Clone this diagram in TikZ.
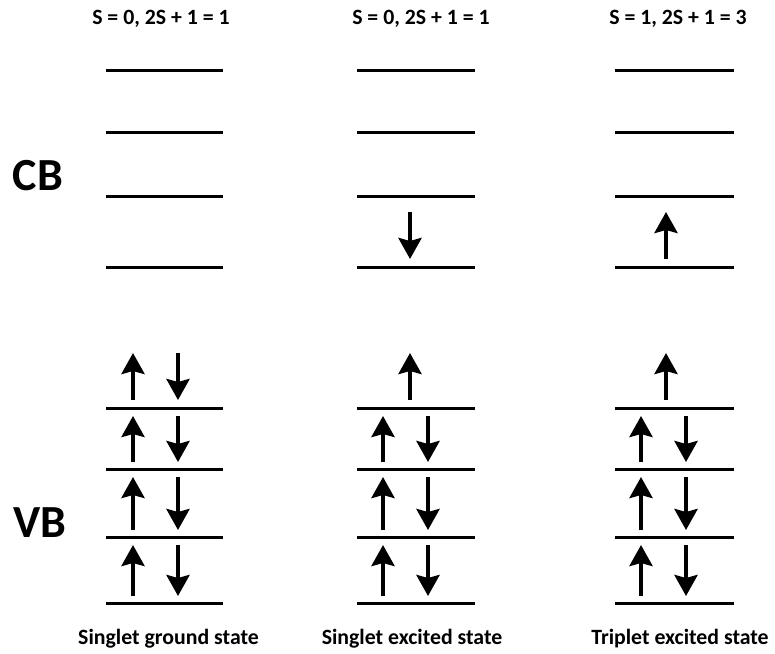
\documentclass[tikz,border=0pt]{standalone}
\usepackage{fontspec}
\setmainfont{Carlito}
\usetikzlibrary{arrows.meta}
\begin{document}
\begin{tikzpicture}[x=1pt,y=-1pt,
  level/.style={line width=3pt},
  spin/.style={line width=4pt,-{Stealth[inset=3pt,width=23pt,length=21pt]}},
  lbl/.style={font=\bfseries\fontsize{21.8}{24}\selectfont,inner sep=0pt},
  band/.style={font=\bfseries\fontsize{46}{50}\selectfont,inner sep=0pt}]
\useasboundingbox (0,0) rectangle (775,653);
% headers
\node[lbl] (h1) at (161,19) {S = 0, 2S + 1 = 1};
\node[lbl] (h2) at (421,19) {S = 0, 2S + 1 = 1};
\node[lbl] (h3) at (678,19) {S = 1, 2S + 1 = 3};
% footers
\node[lbl] (f1) at (168.5,639) {Singlet ground state};
\node[lbl] (f2) at (412,639) {Singlet excited state};
\node[lbl] (f3) at (680,639) {Triplet excited state};
% band labels
\node[band] (cb) at (38,176) {CB};
\node[band] (vb) at (40,523) {VB};
% levels
\foreach \xa/\xb in {106/223,357/475,615/734}{
  \foreach \y in {70,132,196,267,408,469,537,603}{
    \draw[level] (\xa,\y) -- (\xb,\y);
  }
}
% column 1 pairs
\foreach \ya/\yb in {400/353,462/416,530/477,596/545}{
  \draw[spin] (133,\ya) -- (133,\yb);
  \draw[spin] (178,\yb) -- (178,\ya);
}
% column 2
\draw[spin] (410,400) -- (410,353);
\foreach \ya/\yb in {462/416,530/477,596/545}{
  \draw[spin] (383,\ya) -- (383,\yb);
  \draw[spin] (428,\yb) -- (428,\ya);
}
\draw[spin] (410,212) -- (410,259);
% column 3
\draw[spin] (666,400) -- (666,353);
\foreach \ya/\yb in {462/416,530/477,596/545}{
  \draw[spin] (641,\ya) -- (641,\yb);
  \draw[spin] (686,\yb) -- (686,\ya);
}
\draw[spin] (666,259) -- (666,212);
\end{tikzpicture}
\end{document}
